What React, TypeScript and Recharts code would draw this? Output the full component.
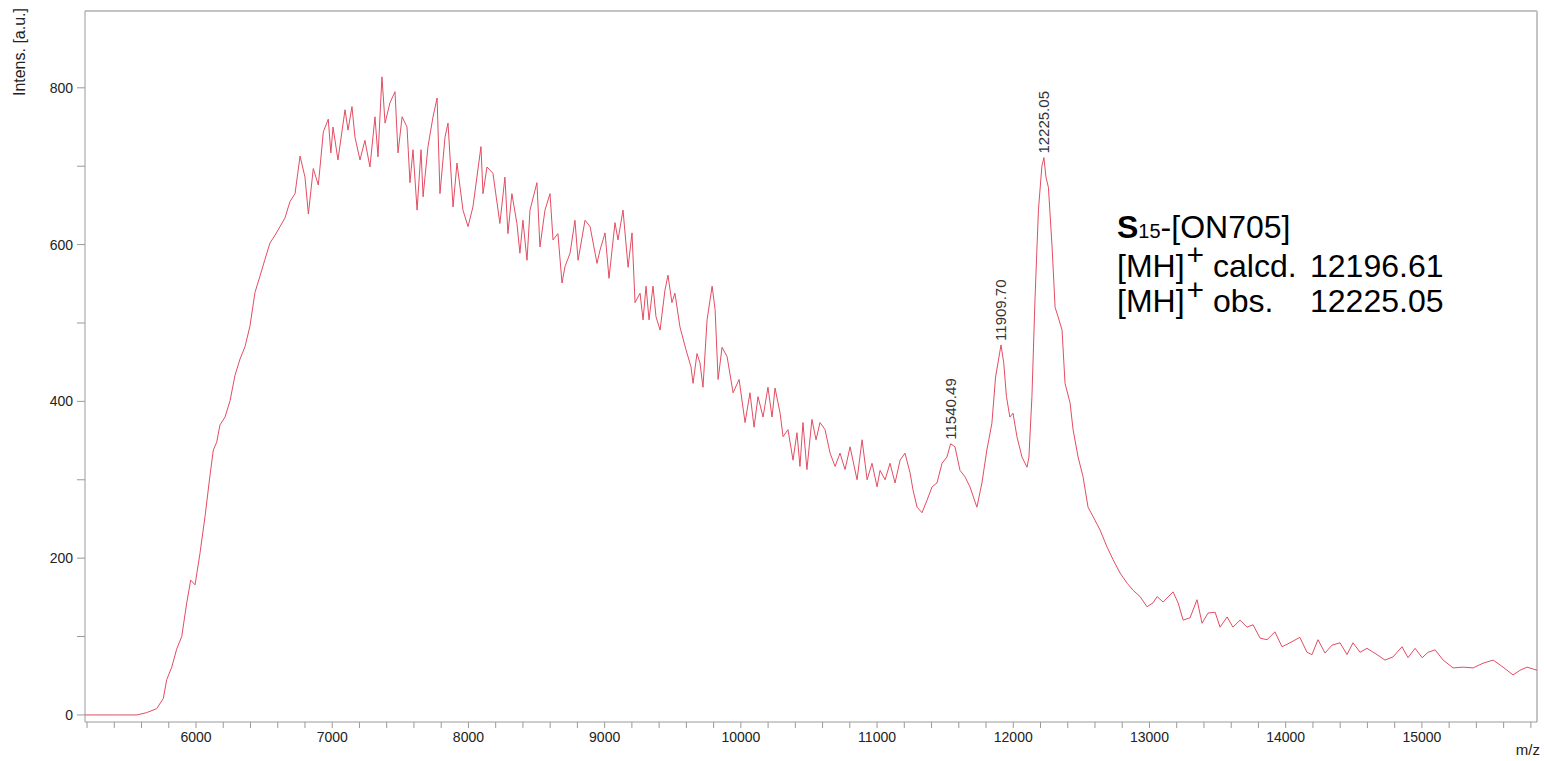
import React from "react";
import { LineChart, Line, XAxis, YAxis, ReferenceDot, ReferenceLine } from "recharts";

// m/z positions and intensities
const mzValues = [
  5185, 5400, 5567, 5638, 5711, 5760, 5785, 5822, 5858, 5895, 5932, 5961, 5993, 6029, 6066, 6103, 6127, 6152, 6176,
  6213, 6250, 6286, 6323, 6360, 6396, 6433, 6470, 6506, 6543, 6580, 6617, 6653, 6690, 6727, 6764, 6800, 6825, 6861,
  6898, 6935, 6971, 6990, 7006, 7042, 7094, 7116, 7145, 7167, 7204, 7240, 7277, 7314, 7336, 7365, 7388, 7424, 7461,
  7483, 7513, 7549, 7571, 7593, 7623, 7652, 7667, 7703, 7740, 7770, 7791, 7828, 7850, 7887, 7916, 7960, 7997, 8033,
  8092, 8107, 8136, 8180, 8231, 8268, 8290, 8319, 8356, 8378, 8400, 8430, 8452, 8503, 8525, 8562, 8599, 8621, 8657,
  8687, 8709, 8746, 8782, 8805, 8856, 8893, 8944, 8966, 9003, 9032, 9076, 9098, 9135, 9172, 9201, 9223, 9260, 9282,
  9304, 9326, 9355, 9377, 9407, 9443, 9465, 9494, 9516, 9553, 9597, 9634, 9649, 9678, 9700, 9722, 9752, 9789, 9811,
  9833, 9862, 9899, 9943, 9987, 10031, 10067, 10097, 10126, 10163, 10199, 10229, 10251, 10288, 10310, 10346, 10383,
  10412, 10434, 10456, 10485, 10522, 10552, 10581, 10618, 10655, 10692, 10728, 10765, 10802, 10853, 10890, 10927,
  10963, 11000, 11022, 11059, 11095, 11132, 11169, 11205, 11242, 11264, 11294, 11330, 11367, 11404, 11440, 11477,
  11513, 11540, 11572, 11609, 11645, 11682, 11733, 11770, 11806, 11843, 11870, 11910, 11930, 11950, 11975, 11998,
  12027, 12064, 12101, 12115, 12137, 12160, 12185, 12210, 12225, 12240, 12258, 12285, 12307, 12329, 12358, 12380,
  12417, 12439, 12476, 12512, 12549, 12586, 12637, 12689, 12733, 12784, 12836, 12880, 12931, 12982, 13026, 13056,
  13100, 13173, 13210, 13247, 13298, 13349, 13386, 13430, 13482, 13518, 13570, 13613, 13665, 13716, 13760, 13812,
  13863, 13921, 13973, 14031, 14104, 14156, 14193, 14237, 14289, 14340, 14399, 14450, 14494, 14546, 14597, 14670,
  14729, 14788, 14854, 14898, 14950, 15002, 15046, 15097, 15156, 15229, 15302, 15376, 15449, 15523, 15596, 15669,
  15721, 15772, 15845,
];

const intensValues = [
  0, 0, 0, 3, 8, 21, 45, 61, 84, 100, 143, 172, 166, 206, 253, 306, 338, 348, 370,
  380, 401, 433, 454, 470, 496, 539, 560, 581, 602, 612, 623, 634, 655, 665, 713, 686, 639, 697,
  676, 744, 760, 717, 750, 708, 772, 746, 776, 737, 708, 733, 699, 763, 712, 814, 755, 781, 795,
  717, 763, 750, 679, 721, 644, 721, 661, 725, 763, 787, 665, 737, 755, 648, 704, 644, 623, 648,
  725, 665, 699, 691, 627, 686, 614, 665, 627, 589, 631, 580, 644, 679, 597, 644, 665, 606, 614,
  551, 572, 589, 631, 580, 631, 623, 576, 593, 615, 557, 628, 606, 644, 571, 615, 526, 538, 504,
  547, 504, 547, 508, 491, 542, 561, 526, 538, 495, 466, 444, 423, 461, 449, 418, 504, 547, 517,
  428, 469, 457, 411, 428, 373, 411, 367, 406, 380, 418, 380, 417, 385, 355, 364, 325,
  360, 317, 373, 313, 377, 351, 373, 364, 334, 317, 334, 313, 342, 300, 351, 300,
  321, 291, 312, 300, 321, 296, 325, 334, 309, 287, 265, 258, 274, 291, 296, 321,
  329, 346, 342, 312, 304, 291, 265, 296, 338, 372, 431, 472, 449, 406, 380, 385,
  355, 329, 316, 329, 406, 533, 645, 700, 711, 686, 673, 597, 520, 508, 491, 423,
  398, 364, 329, 304, 265, 253, 236, 214, 198, 181, 168, 159, 151, 138, 143, 151,
  144, 157, 143, 121, 124, 147, 117, 130, 131, 112, 125, 112, 121, 112, 115, 98,
  96, 106, 87, 92, 99, 80, 77, 96, 79, 89, 92, 77, 92, 80, 85, 77,
  70, 74, 87, 73, 85, 73, 80, 83, 70, 60, 61, 60, 66, 70, 61, 51,
  57, 61, 57,
];

const peakMz = [11540.49, 11909.7, 12225.05];
const peakIntens = [346, 472, 711];
const peakLabels = ["11540.49", "11909.70", "12225.05"];

const xTicks = [
  5200, 5400, 5600, 5800, 6000, 6200, 6400, 6600, 6800, 7000, 7200, 7400, 7600, 7800, 8000, 8200, 8400, 8600, 8800,
  9000, 9200, 9400, 9600, 9800, 10000, 10200, 10400, 10600, 10800, 11000, 11200, 11400, 11600, 11800, 12000, 12200,
  12400, 12600, 12800, 13000, 13200, 13400, 13600, 13800, 14000, 14200, 14400, 14600, 14800, 15000, 15200, 15400,
  15600, 15800,
];
const xLabelled = [6000, 7000, 8000, 9000, 10000, 11000, 12000, 13000, 14000, 15000];
const yTicks = [0, 100, 200, 300, 400, 500, 600, 700, 800];
const yLabelled = [0, 200, 400, 600, 800];

const X_MIN = 5185;
const X_MAX = 15845;
const Y_MIN = -9;
const Y_MAX = 898;

const data = mzValues.map((mz, i) => ({ mz, intens: intensValues[i] }));

const FONT = "'Liberation Sans', Arial, Helvetica, sans-serif";
const AXIS = "#9a9a9a";

function PeakLabel(props: any) {
  const { cx, cy, text } = props;
  const y = cy - 4;
  return (
    <text
      x={cx}
      y={y}
      transform={`rotate(-90 ${cx} ${y})`}
      textAnchor="start"
      dominantBaseline="central"
      fontSize={15}
      fontFamily={FONT}
      fill="#333"
    >
      {text}
    </text>
  );
}

// raised "+" of [MH]+
const plus = { fontSize: 30, position: "relative", top: -12, marginLeft: 2, lineHeight: "20px" } as const;

export default function App() {
  return (
    <div style={{ position: "absolute", left: 0, top: 0, width: 1544, height: 761, background: "#fff", fontFamily: FONT }}>
      <LineChart width={1544} height={761} data={data} margin={{ top: 11, right: 7, bottom: 0, left: 0 }}>
        <XAxis
          dataKey="mz"
          type="number"
          domain={[X_MIN, X_MAX]}
          ticks={xTicks}
          interval={0}
          height={39}
          tickSize={6}
          tickMargin={4}
          stroke={AXIS}
          tick={{ fill: "#222", fontSize: 14, fontFamily: FONT }}
          tickFormatter={(v: number) => (xLabelled.includes(v) ? String(v) : "")}
        />
        <YAxis
          type="number"
          domain={[Y_MIN, Y_MAX]}
          ticks={yTicks}
          interval={0}
          width={85}
          tickSize={8}
          tickMargin={4}
          stroke={AXIS}
          tick={{ fill: "#222", fontSize: 14, fontFamily: FONT }}
          tickFormatter={(v: number) => (yLabelled.includes(v) ? String(v) : "")}
        />
        <ReferenceLine y={Y_MAX} stroke="#c4c4c4" strokeWidth={2} />
        <ReferenceLine x={X_MAX} stroke="#c4c4c4" strokeWidth={2} />
        <Line
          type="linear"
          dataKey="intens"
          stroke="#e34d62"
          strokeWidth={1}
          dot={false}
          isAnimationActive={false}
        />
        {peakMz.map((mz, i) => (
          <ReferenceDot
            key={peakLabels[i]}
            x={mz}
            y={peakIntens[i]}
            r={0}
            ifOverflow="visible"
            shape={(p: any) => <PeakLabel {...p} text={peakLabels[i]} />}
          />
        ))}
      </LineChart>

      <svg width={40} height={130} style={{ position: "absolute", left: 0, top: 0 }}>
        <text
          transform="rotate(-90)"
          x={-8}
          y={25}
          textAnchor="end"
          fontSize={16}
          fontFamily={FONT}
          fill="#222"
        >
          Intens. [a.u.]
        </text>
      </svg>
      <div style={{ position: "absolute", right: 4, top: 741, fontSize: 15, color: "#222" }}>m/z</div>

      <div style={{ position: "absolute", left: 1117, top: 210, fontSize: 32, lineHeight: "35px", color: "#000" }}>
        <div>
          <b>S</b>
          <span style={{ fontSize: 20 }}>15</span>-[ON705]
        </div>
        <div style={{ display: "flex" }}>
          <div style={{ width: 193, whiteSpace: "nowrap" }}>
            [MH]<span style={plus}>+</span> calcd.
          </div>
          <div>12196.61</div>
        </div>
        <div style={{ display: "flex" }}>
          <div style={{ width: 193, whiteSpace: "nowrap" }}>
            [MH]<span style={plus}>+</span> obs.
          </div>
          <div>12225.05</div>
        </div>
      </div>
    </div>
  );
}
